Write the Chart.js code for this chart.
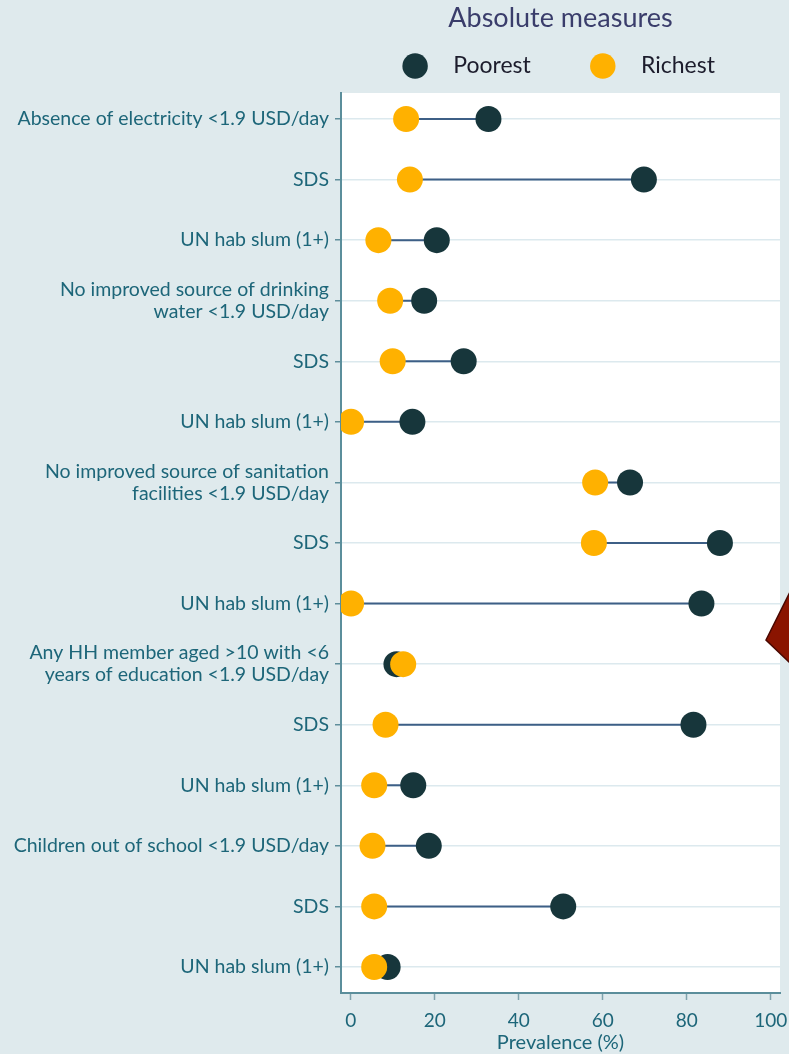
<!DOCTYPE html>
<html>
<head>
<meta charset="utf-8">
<script src="https://cdn.jsdelivr.net/npm/chart.js@4.4.1/dist/chart.umd.min.js"></script>
<style>
  html, body { margin:0; padding:0; background:#dfeaed; }
  #wrap { position:relative; width:789px; height:1054px; overflow:hidden; }
  #c { display:block; }
  #deco { position:absolute; left:0; top:0; pointer-events:none; }
</style>
</head>
<body>
<div id="wrap">
<canvas id="c" width="789" height="1054"></canvas>
<svg id="deco" width="789" height="1054"><polygon points="766,640 791,590 791,664" fill="#8a1400" stroke="#4a0800" stroke-width="1.5"/></svg>
</div>
<script>
const categories = [
  "Absence of electricity <1.9 USD/day",
  "SDS",
  "UN hab slum (1+)",
  ["No improved source of drinking", "water <1.9 USD/day"],
  "SDS",
  "UN hab slum (1+)",
  ["No improved source of sanitation", "facilities <1.9 USD/day"],
  "SDS",
  "UN hab slum (1+)",
  ["Any HH member aged >10 with <6", "years of education <1.9 USD/day"],
  "SDS",
  "UN hab slum (1+)",
  "Children out of school <1.9 USD/day",
  "SDS",
  "UN hab slum (1+)"
];
const poorest = [32.8, 69.8, 20.5, 17.5, 26.9, 14.7, 66.5, 87.9, 83.5, 10.9, 81.6, 14.9, 18.6, 50.6, 8.8];
const richest = [13.2, 14.1, 6.6, 9.4, 10.0, 0.1, 58.2, 57.9, 0.1, 12.5, 8.3, 5.6, 5.2, 5.6, 5.6];
const xTicks = [0, 20, 40, 60, 80, 100];

const FONT = "Lato";
const TEAL = "#1d6679";

const rowPos = categories.map((_, i) => i + 1);
const poorPts = poorest.map((v, i) => ({x: v, y: rowPos[i]}));
const richPts = richest.map((v, i) => ({x: v, y: rowPos[i]}));
const connPts = [];
poorest.forEach((v, i) => {
  connPts.push({x: richest[i], y: rowPos[i]});
  connPts.push({x: v, y: rowPos[i]});
  connPts.push({x: null, y: null});
});

// legend text spacing helper
const LEG_FS = 23;
const mctx = document.createElement('canvas').getContext('2d');
mctx.font = LEG_FS + "px " + FONT;
const spW = mctx.measureText(' ').width || 5;
const lead = ' '.repeat(Math.max(0, Math.round((38 - 9 - LEG_FS / 2) / spW)));
const leadW = mctx.measureText(lead).width;
const poorW = mctx.measureText('Poorest').width;
const trailCount = Math.max(0, Math.round((591 - 404 - 18 - LEG_FS / 2 - 10 - leadW - poorW) / spW));
const trail = ' '.repeat(trailCount);

const bgPlugin = {
  id: 'plotBg',
  beforeDraw(chart) {
    const a = chart.chartArea, ctx = chart.ctx;
    ctx.save();
    ctx.fillStyle = '#ffffff';
    ctx.fillRect(a.left, a.top, a.right - a.left, a.bottom - a.top);
    ctx.restore();
  }
};
const centerBoxes = {
  id: 'centerBoxes',
  afterLayout(chart) {
    const a = chart.chartArea;
    [chart.titleBlock, chart.legend].forEach(b => {
      if (b) { b.left = a.left; b.right = a.right; b.width = a.right - a.left; }
    });
    if (chart.legend) { chart.legend.top -= 5.5; chart.legend.bottom -= 5.5; }
  }
};

new Chart(document.getElementById('c'), {
  type: 'scatter',
  data: {
    datasets: [
      { label: 'gap', data: connPts, showLine: true, spanGaps: false, borderColor: '#3d5f86', borderWidth: 2, pointRadius: 0, order: 3 },
      { label: 'Poorest', data: poorPts, backgroundColor: '#17363b', borderColor: '#17363b', borderWidth: 0, pointRadius: 13, pointHoverRadius: 13, pointStyle: 'circle', order: 2 },
      { label: 'Richest', data: richPts, backgroundColor: '#ffb100', borderColor: '#ffb100', borderWidth: 0, pointRadius: 13, pointHoverRadius: 13, pointStyle: 'circle', order: 1 }
    ]
  },
  options: {
    responsive: false,
    animation: false,
    layout: { autoPadding: false, padding: { left: 0, right: 9, top: 0, bottom: 0 } },
    plugins: {
      tooltip: { enabled: false },
      title: {
        display: true,
        text: 'Absolute measures',
        color: '#3a3d6b',
        font: { family: FONT, size: 27, weight: 'normal', lineHeight: 1.0 },
        padding: { top: 5, bottom: 18 }
      },
      legend: {
        display: true,
        position: 'top',
        align: 'center',
        labels: {
          usePointStyle: true,
          boxWidth: 18,
          boxHeight: 18,
          padding: 10,
          color: '#1c1c2c',
          font: { family: FONT, size: LEG_FS, lineHeight: 1.0 },
          generateLabels(chart) {
            const items = Chart.defaults.plugins.legend.labels.generateLabels(chart);
            return items
              .filter(it => it.datasetIndex !== 0)
              .sort((a, b) => a.datasetIndex - b.datasetIndex)
              .map(it => Object.assign({}, it, { text: lead + it.text + (it.datasetIndex === 1 ? trail : '') }));
          }
        }
      }
    },
    scales: {
      x: {
        type: 'linear',
        min: -2.3,
        max: 102.2,
        afterBuildTicks(scale) { scale.ticks = xTicks.map(v => ({value: v})); },
        afterFit(scale) {
          scale.paddingRight = 0; scale.paddingLeft = 0; scale.height = 61;
        },
        grid: { drawOnChartArea: false, drawTicks: true, tickLength: 7, tickColor: '#7fa2ac', tickWidth: 1.5 },
        border: { display: true, color: '#5b8e9b', width: 2 },
        ticks: { color: TEAL, font: { family: FONT, size: 19 }, padding: 9 },
        title: { display: true, text: 'Prevalence (%)', color: TEAL, font: { family: FONT, size: 20, lineHeight: 1.0 }, padding: { top: 0, bottom: 1 } }
      },
      y: {
        type: 'linear',
        reverse: true,
        min: 0.57,
        max: 15.43,
        afterBuildTicks(scale) { scale.ticks = rowPos.map(v => ({value: v})); },
        afterFit(scale) { scale.width = 341; },
        grid: { color: '#dce9ee', lineWidth: 1.5, drawTicks: true, tickLength: 6, tickColor: '#5e8e9b', tickWidth: 1.5 },
        border: { display: true, color: '#5b8e9b', width: 2 },
        ticks: {
          color: TEAL,
          font: { family: FONT, size: 19.5, lineHeight: 1.13 },
          padding: 6,
          autoSkip: false,
          callback(value) { return categories[Math.round(value) - 1]; }
        }
      }
    }
  },
  plugins: [bgPlugin, centerBoxes]
});
</script>
</body>
</html>
